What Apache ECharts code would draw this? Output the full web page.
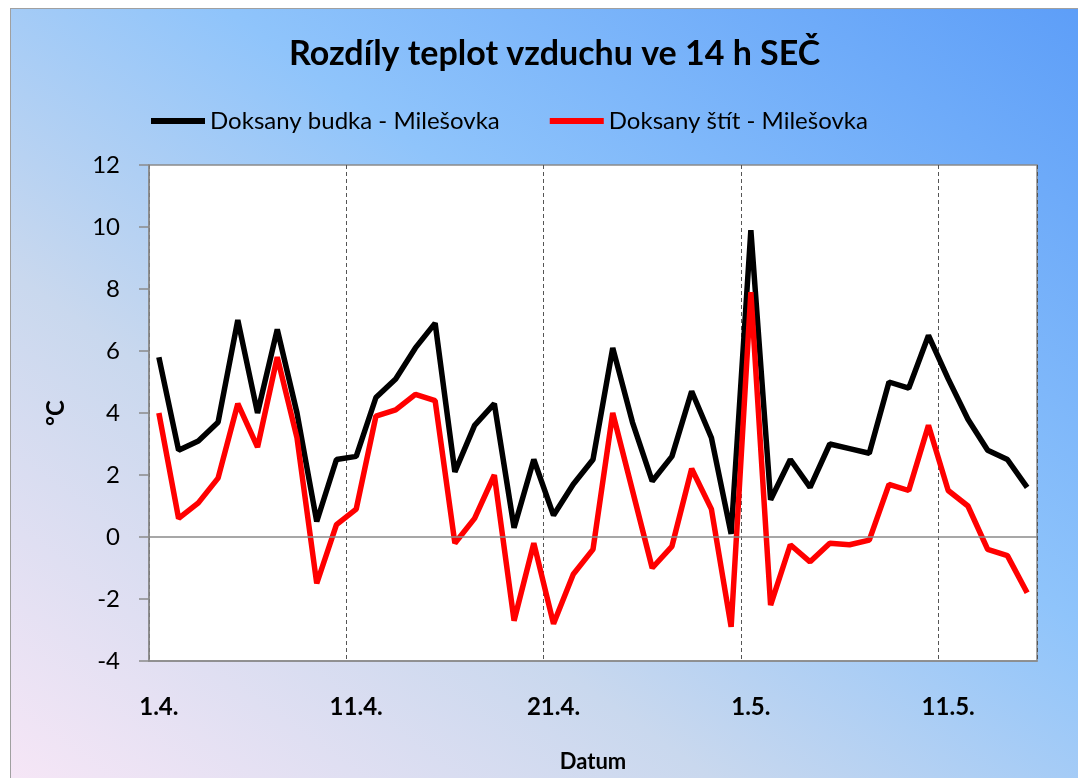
<!DOCTYPE html>
<html style="height: 100%">
   <head>
       <meta charset="utf-8">
       <script src="https://cdn.jsdelivr.net/npm/echarts@6/dist/echarts.min.js"></script>
    <style type="text/css">
      *{
        margin: 0;padding: 0;
      }
      body { background: #fff; }
      #bg {
        position: absolute; left: 10px; top: 8px; right: -5px; bottom: -5px;
        border-left: 1.5px solid #a0a0a0; border-top: 1.5px solid #a0a0a0;
        background: linear-gradient(to top right, #f6e6f6 0%, #c9d8ee 33%, #8fc4fb 60%, #5d9ef8 100%);
      }
    </style>
   </head>
   <body style="height: 100%; margin: 0">
       <div id="bg"></div>
       <div id="container" style="position: absolute; left: 0; top: 0; width: 1078px; height: 778px"></div>
       <script type="text/javascript">
          var dom = document.getElementById("container");
          var myChart = echarts.init(dom);

          // dny 1.4. - 15.5.
          var days = [];
          for (var d = 1; d <= 30; d++) days.push(d + '.4.');
          for (var d = 1; d <= 15; d++) days.push(d + '.5.');

          var budka = [5.8, 2.8, 3.1, 3.7, 7.0, 4.0, 6.7, 4.0, 0.5, 2.5, 2.6, 4.5, 5.1, 6.1, 6.9,
                       2.1, 3.6, 4.3, 0.3, 2.5, 0.7, 1.7, 2.5, 6.1, 3.7, 1.8, 2.6, 4.7, 3.2, 0.1,
                       9.9, 1.2, 2.5, 1.6, 3.0, 2.85, 2.7, 5.0, 4.8, 6.5, 5.1, 3.8, 2.8, 2.5, 1.6];
          var stit = [4.0, 0.6, 1.1, 1.9, 4.3, 2.9, 5.8, 3.2, -1.5, 0.4, 0.9, 3.9, 4.1, 4.6, 4.4,
                      -0.2, 0.6, 2.0, -2.7, -0.2, -2.8, -1.2, -0.4, 4.0, 1.5, -1.0, -0.3, 2.2, 0.9, -2.9,
                      7.9, -2.2, -0.25, -0.8, -0.2, -0.25, -0.1, 1.7, 1.5, 3.6, 1.5, 1.0, -0.4, -0.6, -1.8];

          var font = 'Lato';

          var option = {
              backgroundColor: 'transparent',
              title: {
                  text: 'Rozdíly teplot vzduchu ve 14 h SEČ',
                  left: 284,
                  top: 32,
                  textStyle: {fontFamily: font, fontSize: 34, fontWeight: 'bold', color: '#000'}
              },
              legend: {
                  left: 146,
                  top: 104,
                  icon: 'rect',
                  itemWidth: 54,
                  itemHeight: 6,
                  itemGap: 50,
                  textStyle: {fontFamily: font, fontSize: 24, color: '#000'},
                  data: ['Doksany budka - Milešovka', 'Doksany štít - Milešovka']
              },
              grid: {
                  left: 149, right: 41, top: 165, bottom: 115,
                  show: true, backgroundColor: '#fff', borderColor: '#8a8a8a', borderWidth: 1.5
              },
              xAxis: {
                  type: 'category',
                  data: days,
                  boundaryGap: true,
                  name: 'Datum',
                  nameLocation: 'middle',
                  nameGap: 90,
                  nameTextStyle: {fontFamily: font, fontSize: 22, fontWeight: 'bold', color: '#000'},
                  axisLine: {onZero: false, lineStyle: {color: '#8a8a8a', width: 1.5}},
                  axisTick: {show: false, interval: 9},
                  axisLabel: {interval: 9, margin: 34, fontFamily: font, fontSize: 24, fontWeight: 'bold', color: '#000'},
                  splitLine: {show: true, interval: 9, lineStyle: {type: [4, 3], color: '#555', width: 1}}
              },
              yAxis: {
                  type: 'value',
                  min: -4, max: 12, interval: 2,
                  name: '°C',
                  nameLocation: 'middle',
                  nameRotate: 90,
                  nameGap: 81,
                  nameTextStyle: {fontFamily: font, fontSize: 24, fontWeight: 'bold', color: '#000'},
                  axisLine: {show: true, lineStyle: {color: '#8a8a8a', width: 1.5}},
                  axisTick: {show: true, length: 10, lineStyle: {color: '#8a8a8a', width: 1.5}},
                  axisLabel: {margin: 29, fontFamily: font, fontSize: 24, color: '#000'},
                  splitLine: {show: false}
              },
              series: [
                  {
                      name: 'Doksany budka - Milešovka',
                      type: 'line',
                      symbol: 'none',
                      data: budka,
                      lineStyle: {color: '#000', width: 5.5},
                      itemStyle: {color: '#000'},
                      markLine: {
                          silent: true, symbol: 'none', label: {show: false},
                          lineStyle: {color: '#8a8a8a', type: 'solid', width: 1.5},
                          data: [{yAxis: 0}]
                      },
                      z: 3
                  },
                  {
                      name: 'Doksany štít - Milešovka',
                      type: 'line',
                      symbol: 'none',
                      data: stit,
                      lineStyle: {color: '#ff0000', width: 5.5},
                      itemStyle: {color: '#ff0000'},
                      z: 4
                  }
              ]
          };

          if (option && typeof option === "object") {
              myChart.setOption(option, true);
          }
       </script>
   </body>
</html>
